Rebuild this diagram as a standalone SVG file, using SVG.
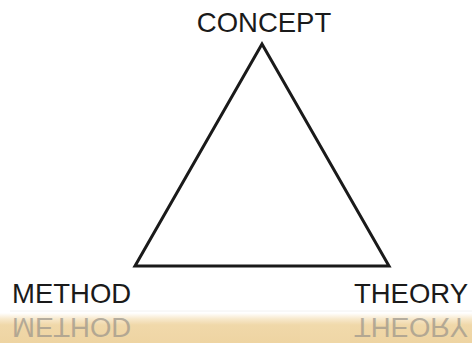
<svg xmlns="http://www.w3.org/2000/svg" width="472" height="343" viewBox="0 0 472 343">
  <defs>
    <linearGradient id="floor" x1="0" y1="0" x2="0" y2="1">
      <stop offset="0" stop-color="#ffffff"/>
      <stop offset="0.2" stop-color="#f7e8cb"/>
      <stop offset="0.4" stop-color="#f0d8a9"/>
      <stop offset="1" stop-color="#eed4a2"/>
    </linearGradient>
    <style>
      .lbl { font-family: "Liberation Sans", Arial, sans-serif; font-size: 27.5px; fill: #1a1a1a; }
      .ref { font-family: "Liberation Sans", Arial, sans-serif; font-size: 27.5px; fill: #9a948a; opacity: 0.7; }
    </style>
  </defs>
  <rect x="0" y="0" width="472" height="343" fill="#ffffff"/>
  <g id="floor-surface">
    <rect x="0" y="313" width="472" height="30" fill="url(#floor)"/>
    <line x1="10" y1="311" x2="472" y2="311" stroke="#f2f2f2" stroke-width="1"/>
    <rect x="150" y="322" width="50" height="21" fill="#f3dcae" opacity="0.25"/>
    <rect x="300" y="322" width="50" height="21" fill="#f4dfb4" opacity="0.25"/>
  </g>
  <g id="reflection" transform="translate(0,621) scale(1,-1)">
    <text class="ref" x="12" y="303">METHOD</text>
    <text class="ref" x="468" y="303" text-anchor="end">THEORY</text>
  </g>
  <g id="connectors">
    <polygon points="262,44 135,266 389,266" fill="none" stroke="#1a1a1a" stroke-width="3" stroke-linejoin="miter"/>
  </g>
  <g id="concept">
    <text class="lbl" x="264" y="32" text-anchor="middle">CONCEPT</text>
  </g>
  <g id="method">
    <text class="lbl" x="12" y="303">METHOD</text>
  </g>
  <g id="theory">
    <text class="lbl" x="468" y="303" text-anchor="end">THEORY</text>
  </g>
</svg>
